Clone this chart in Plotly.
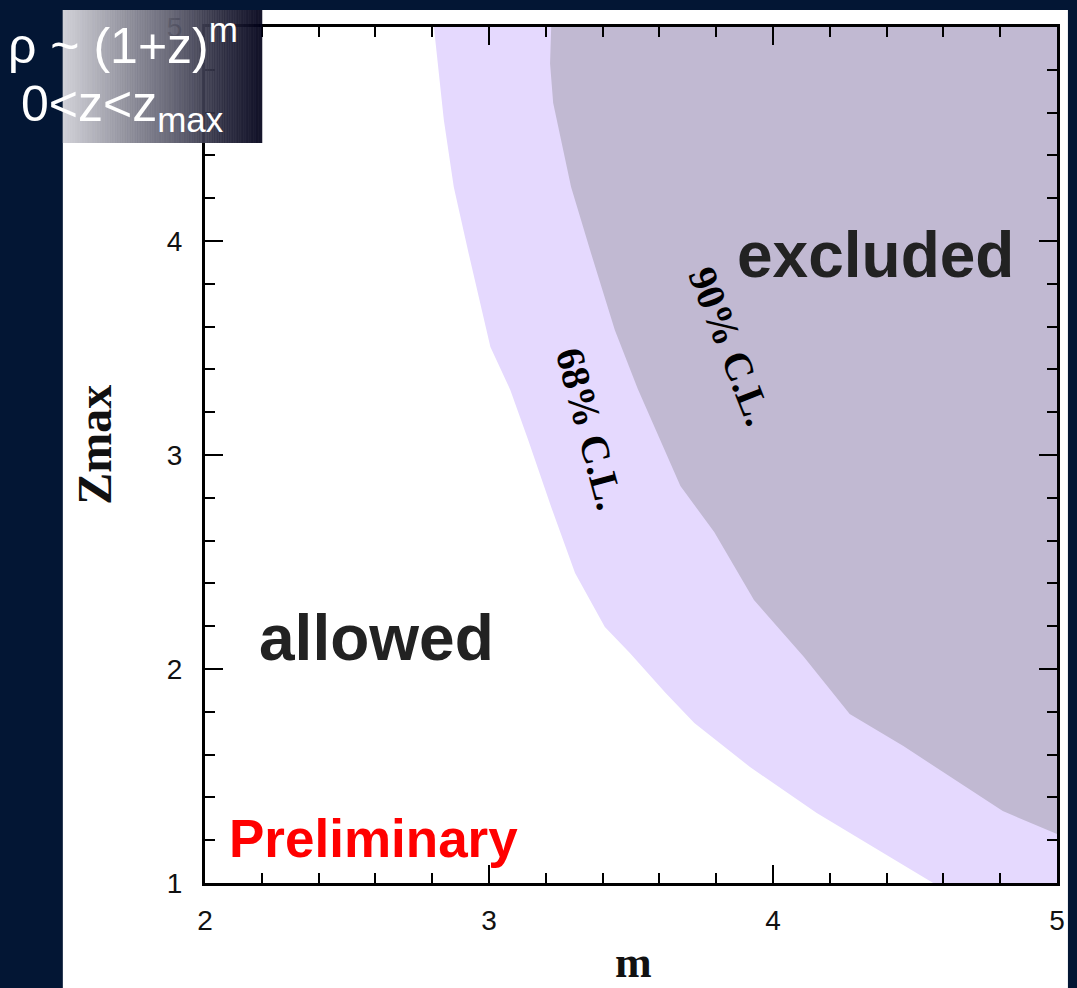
import plotly.graph_objects as go

# Boundary of the 68% C.L. exclusion region (m, z_max), top to bottom
cl68_m = [2.806, 2.841, 2.876, 2.928, 3.005, 3.075, 3.138, 3.219, 3.303,
          3.408, 3.496, 3.622, 3.723, 3.919, 4.154, 4.389, 4.564]
cl68_z = [5.000, 4.565, 4.252, 3.944, 3.505, 3.304, 3.070, 2.757, 2.449,
          2.196, 2.075, 1.888, 1.748, 1.542, 1.327, 1.140, 1.000]

# Boundary of the 90% C.L. exclusion region (m, z_max), top to bottom
cl90_m = [3.219, 3.215, 3.226, 3.289, 3.359, 3.443, 3.524, 3.674, 3.793,
          3.933, 4.109, 4.270, 4.459, 4.690, 4.809, 5.000]
cl90_z = [5.000, 4.830, 4.645, 4.252, 3.944, 3.584, 3.308, 2.855, 2.640,
          2.322, 2.056, 1.790, 1.640, 1.439, 1.336, 1.229]

m_range = [2, 5]
z_range = [1, 5]
m_ticks = [2, 3, 4, 5]
z_ticks = [1, 2, 3, 4, 5]

LAVENDER = "#e5d9fe"
GREYPURPLE = "#c1b9d2"
NAVY = "#031634"

W, H = 1077, 988
L, R, T, B = 205, 1077 - 1062, 27, 988 - 883
PW, PH = W - L - R, H - T - B


def px(xp):
    return (xp - L) / PW


def py(yp):
    return (H - B - yp) / PH


fig = go.Figure()

# 68% region: boundary then around the upper-right corner
fig.add_trace(go.Scatter(
    x=cl68_m + [m_range[1], m_range[1]],
    y=cl68_z + [z_range[0], z_range[1]],
    fill="toself", fillcolor=LAVENDER, mode="lines",
    line=dict(width=0, color=LAVENDER), hoverinfo="skip", showlegend=False,
))
# 90% region
fig.add_trace(go.Scatter(
    x=cl90_m + [m_range[1]],
    y=cl90_z + [z_range[1]],
    fill="toself", fillcolor=GREYPURPLE, mode="lines",
    line=dict(width=0, color=GREYPURPLE), hoverinfo="skip", showlegend=False,
))

shapes = [
    # white slide panel behind the plot
    dict(type="rect", xref="paper", yref="paper", layer="below",
         x0=px(62), x1=px(1073), y0=py(988), y1=py(10),
         fillcolor="white", line=dict(width=0)),
]

# gradient title box (light grey -> dark navy), built from thin strips
n_strips = 80
x_left, x_right = 62, 262
c0 = (205, 205, 212)
c1 = (2, 2, 26)
for i in range(n_strips):
    t = i / (n_strips - 1)
    c = tuple(int(round(c0[k] + (c1[k] - c0[k]) * t)) for k in range(3))
    xa = x_left + (x_right - x_left) * i / n_strips
    xb = x_left + (x_right - x_left) * (i + 1) / n_strips
    shapes.append(dict(
        type="rect", xref="paper", yref="paper", layer="above",
        x0=px(xa), x1=px(xb + 0.6), y0=py(143), y1=py(10),
        fillcolor="rgb(%d,%d,%d)" % c, opacity=0.92, line=dict(width=0),
    ))


def label(text, x, y, size, color, family="Liberation Sans", angle=0,
          ref="data", weight="bold"):
    xr, yr = ("x", "y") if ref == "data" else ("paper", "paper")
    return dict(text=text, x=x, y=y, xref=xr, yref=yr,
                xanchor="center", yanchor="middle", showarrow=False,
                textangle=angle,
                font=dict(family=family, size=size, color=color,
                          weight=weight))


annotations = [
    label("excluded", 4.360, 3.935, 64, "#222222"),
    label("allowed", 2.604, 2.145, 64, "#222222"),
    label("Preliminary", 2.592, 1.21, 53, "#ff0000"),
    label("68% C.L.", 3.357, 3.121, 40, "black", "Liberation Serif", 75),
    label("90% C.L.", 3.850, 3.505, 40, "black", "Liberation Serif", 68.6),
    # axis titles
    label("m", px(636), py(962), 44, "#111111", "Liberation Serif",
          ref="paper"),
    label("Zmax", px(93), py(445), 48, "#111111", "Liberation Serif", -90,
          ref="paper"),
    # model description in the title box
    label("ρ ~ (1+z)<sup>m</sup>", px(123), py(42), 50, "white",
          ref="paper", weight="normal"),
    label("0&lt;z&lt;z<sub>max</sub>", px(122), py(108), 50, "white",
          ref="paper", weight="normal"),
]

axis_common = dict(
    showline=True, linecolor="black", linewidth=3, mirror="ticks",
    ticks="inside", ticklen=18, tickwidth=2, tickcolor="black",
    showgrid=False, zeroline=False,
    tickfont=dict(family="Liberation Sans", size=28, color="#111111"),
)

fig.update_xaxes(range=m_range, tickvals=m_ticks, ticklabelstandoff=10,
                 minor=dict(dtick=0.2, ticks="inside", ticklen=10,
                            tickwidth=2, tickcolor="black", showgrid=False),
                 **axis_common)
fig.update_yaxes(range=z_range, tickvals=z_ticks, ticklabelstandoff=14,
                 minor=dict(dtick=0.2, ticks="inside", ticklen=10,
                            tickwidth=2, tickcolor="black", showgrid=False),
                 **axis_common)

fig.update_layout(
    width=W, height=H,
    margin=dict(l=L, r=R, t=T, b=B, pad=0),
    paper_bgcolor=NAVY, plot_bgcolor="white",
    shapes=shapes, annotations=annotations, showlegend=False,
)

fig.write_html("out.html")
